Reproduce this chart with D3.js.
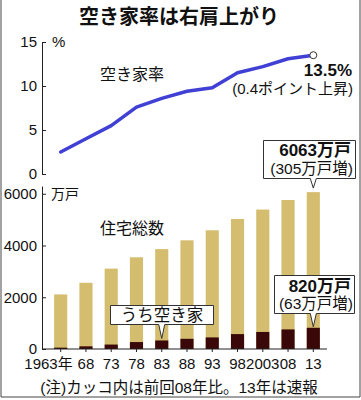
<!DOCTYPE html>
<html>
<head>
<meta charset="utf-8">
<script src="https://cdn.jsdelivr.net/npm/d3@7"></script>
<style>
body { margin: 0; background: #fff; }
svg text { font-family: "Liberation Sans", "Noto Sans CJK JP", sans-serif; fill: #111; }
.jp { font-family: "Noto Sans CJK JP", sans-serif; }
</style>
</head>
<body>
<svg id="chart" width="361" height="400"></svg>
<script>
// 年次（住宅・土地統計調査）
var years = ["1963", "68", "73", "78", "83", "88", "93", "98", "2003", "08", "13"];
// 空き家率（％）
var vacancyRate = [2.5, 4.0, 5.5, 7.6, 8.6, 9.4, 9.8, 11.5, 12.2, 13.1, 13.5];
// 住宅総数（万戸）
var totalHouses = [2109, 2559, 3106, 3545, 3861, 4201, 4588, 5025, 5389, 5759, 6063];
// うち空き家（万戸）
var vacantHouses = [52, 103, 172, 268, 330, 394, 448, 576, 659, 757, 820];
var rateTicks = [0, 5, 10, 15];
var houseTicks = [0, 2000, 4000, 6000];

var svg = d3.select("#chart");

// frame
svg.append("path")
    .attr("d", "M1,0 V397 H360 V0")
    .attr("fill", "none")
    .attr("stroke", "#444")
    .attr("stroke-width", 1);

svg.append("text")
    .attr("class", "jp")
    .attr("x", 179).attr("y", 24)
    .attr("text-anchor", "middle")
    .attr("font-size", "20px")
    .attr("font-weight", "bold")
    .text("空き家率は右肩上がり");

var x = d3.scaleBand().domain(years).range([42, 332]).padding(0.48);
var cx = function(d){ return x(d) + x.bandwidth() / 2; };

var yRate = d3.scaleLinear().domain([0, 15]).range([174, 42]);
var yHouse = d3.scaleLinear().domain([0, 6300]).range([349, 186]);

// upper axis
var axTop = svg.append("g")
    .attr("transform", "translate(42,0)")
    .call(d3.axisLeft(yRate).tickValues(rateTicks).tickFormat(d3.format("d"))
          .tickSize(-4).tickSizeOuter(0).tickPadding(5));
axTop.selectAll("text").attr("font-size", "15px").attr("fill", "#111").attr("font-family", "Liberation Sans, sans-serif");
axTop.selectAll("line, path").attr("stroke", "#222");

svg.append("text").attr("x", 52).attr("y", 47).attr("font-size", "15px").text("%");

// lower axis
var axBot = svg.append("g")
    .attr("transform", "translate(42,0)")
    .call(d3.axisLeft(yHouse).tickValues(houseTicks).tickFormat(d3.format("d"))
          .tickSize(-4).tickSizeOuter(0).tickPadding(5));
axBot.selectAll("text").attr("font-size", "15px").attr("fill", "#111").attr("font-family", "Liberation Sans, sans-serif");
axBot.selectAll("line, path").attr("stroke", "#222");

svg.append("text").attr("class", "jp").attr("x", 51).attr("y", 199).attr("font-size", "14px").text("万戸");

// bars
var data = years.map(function(y, i){ return {year: y, total: totalHouses[i], vacant: vacantHouses[i], rate: vacancyRate[i]}; });

svg.selectAll(".total").data(data).enter().append("rect")
    .attr("class", "total")
    .attr("x", d => x(d.year))
    .attr("width", x.bandwidth())
    .attr("y", d => yHouse(d.total))
    .attr("height", d => yHouse(0) - yHouse(d.total))
    .attr("fill", "#d5bd70");

svg.selectAll(".vacant").data(data).enter().append("rect")
    .attr("class", "vacant")
    .attr("x", d => x(d.year))
    .attr("width", x.bandwidth())
    .attr("y", d => yHouse(d.vacant))
    .attr("height", d => yHouse(0) - yHouse(d.vacant))
    .attr("fill", "#3a0808");

// x axis
var axX = svg.append("g")
    .attr("transform", "translate(0,349)")
    .call(d3.axisBottom(x).tickSize(3).tickSizeOuter(0).tickPadding(6));
axX.select(".domain").remove();
axX.selectAll("line").attr("stroke", "#222");
axX.selectAll("text")
    .attr("font-size", "15px").attr("fill", "#111")
    .attr("font-family", "Liberation Sans, Noto Sans CJK JP, sans-serif")
    .text(d => d == "1963" ? "1963年" : d)
    .attr("text-anchor", d => d == "1963" ? "end" : "middle")
    .attr("dx", d => d == "1963" ? 12 : 0);
svg.append("line")
    .attr("x1", 42).attr("x2", 327).attr("y1", 349).attr("y2", 349)
    .attr("stroke", "#222");

// vacancy line
var line = d3.line().x(d => cx(d.year)).y(d => yRate(d.rate));
svg.append("path")
    .datum(data)
    .attr("d", line)
    .attr("fill", "none")
    .attr("stroke", "#4040d4")
    .attr("stroke-width", 3.5)
    .attr("stroke-linejoin", "round")
    .attr("stroke-linecap", "round");

var last = data[data.length - 1];
svg.append("circle")
    .attr("cx", cx(last.year)).attr("cy", yRate(last.rate))
    .attr("r", 3.5)
    .attr("fill", "#fff")
    .attr("stroke", "#333")
    .attr("stroke-width", 1);

// labels
svg.append("text").attr("class", "jp").attr("x", 100).attr("y", 80).attr("font-size", "16px").text("空き家率");
svg.append("text").attr("x", 352).attr("y", 76).attr("text-anchor", "end")
    .attr("font-size", "17px").attr("font-weight", "bold").text("13.5%");
svg.append("text").attr("x", 353).attr("y", 93.5).attr("text-anchor", "end")
    .attr("font-size", "15px").text("(0.4ポイント上昇)");
svg.append("text").attr("class", "jp").attr("x", 100).attr("y", 234).attr("font-size", "16px").text("住宅総数");

// callout boxes with pointer
function callout(x0, x1, y0, y1, px, tip){
    svg.append("path")
        .attr("d", "M" + x0 + "," + y0 + "H" + x1 + "V" + y1 + "H" + (px + 3) +
              "L" + px + "," + tip + "L" + (px - 3) + "," + y1 + "H" + x0 + "Z")
        .attr("fill", "#fff")
        .attr("stroke", "#333")
        .attr("stroke-width", 1);
}

var p13 = cx(last.year);
callout(263.5, 355.5, 140.5, 178.5, p13, yHouse(last.total) - 4);
svg.append("text").attr("x", 351).attr("y", 156).attr("text-anchor", "end")
    .attr("font-size", "17px").attr("font-weight", "bold").text("6063万戸");
svg.append("text").attr("x", 353).attr("y", 174).attr("text-anchor", "end")
    .attr("font-size", "15.5px").text("(305万戸増)");

callout(274.5, 354.5, 275.5, 313.5, p13, yHouse(last.vacant) - 1);
svg.append("text").attr("x", 351).attr("y", 292).attr("text-anchor", "end")
    .attr("font-size", "17px").attr("font-weight", "bold").text("820万戸");
svg.append("text").attr("x", 353).attr("y", 309).attr("text-anchor", "end")
    .attr("font-size", "15.5px").text("(63万戸増)");

var p83 = cx("83");
callout(110.5, 213.5, 305.5, 324.5, p83, yHouse(vacantHouses[4]) - 2);
svg.append("text").attr("class", "jp").attr("x", 162).attr("y", 321).attr("text-anchor", "middle")
    .attr("font-size", "16.5px").text("うち空き家");

// footnote
svg.append("text").attr("x", 179).attr("y", 393).attr("text-anchor", "middle")
    .attr("font-size", "15.5px").text("(注)カッコ内は前回08年比。13年は速報");
</script>
</body>
</html>
